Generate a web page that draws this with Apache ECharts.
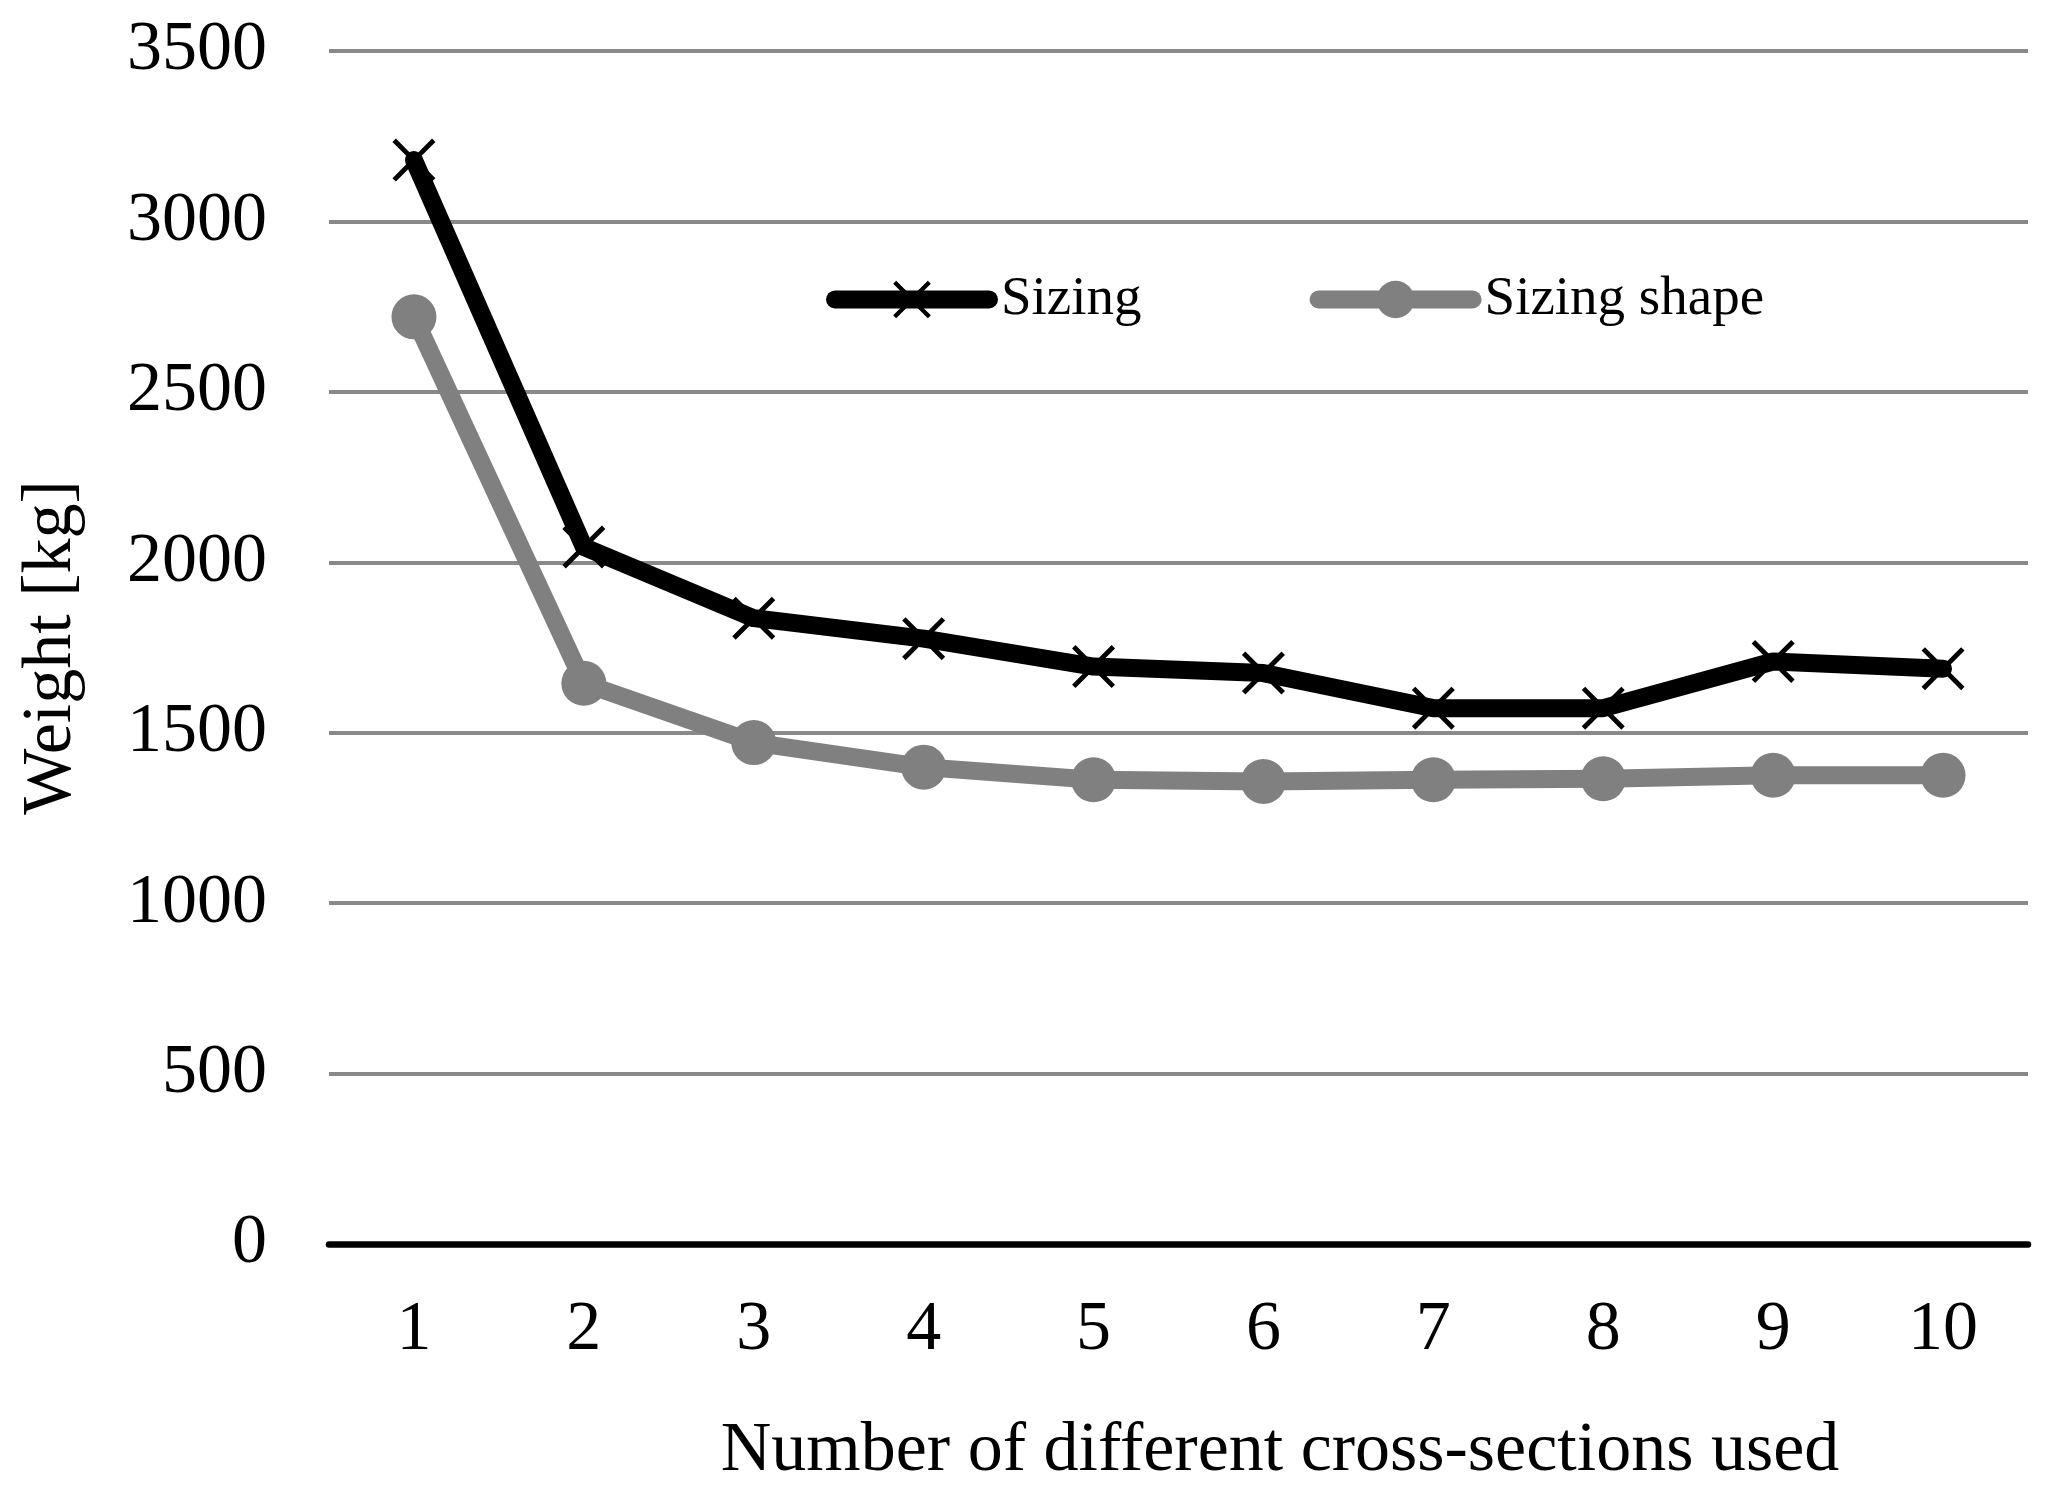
<!DOCTYPE html>
<html>
<head>
<meta charset="utf-8">
<script src="https://cdn.jsdelivr.net/npm/echarts@6/dist/echarts.min.js"></script>
<style>
html,body{margin:0;padding:0;background:#fff;}
#chart{width:2061px;height:1496px;}
</style>
</head>
<body>
<div id="chart"></div>
<script>
const categories = ['1','2','3','4','5','6','7','8','9','10'];
const sizing = [3180, 2045, 1836, 1776, 1694, 1675, 1572, 1572, 1709, 1688];
const sizingShape = [2720, 1645, 1471, 1399, 1362, 1357, 1362, 1365, 1375, 1375];
const seriesNames = ['Sizing', 'Sizing shape'];
const yTicks = {min: 0, max: 3500, interval: 500};
const xTitle = 'Number of different cross-sections used';
const yTitle = 'Weight [kg]';

const FONT = 'Liberation Serif, Times New Roman, serif';
const crossPath = 'path://M0,8 L8,0 L50,42 L92,0 L100,8 L58,50 L100,92 L92,100 L50,58 L8,100 L0,92 L42,50 Z';

const chart = echarts.init(document.getElementById('chart'), null, {renderer: 'canvas'});
chart.setOption({
  backgroundColor: '#ffffff',
  animation: false,
  grid: {left: 329, right: 33, top: 51, bottom: 252, containLabel: false, outerBoundsMode: 'none'},
  legend: {
    left: 821, top: 267,
    itemWidth: 154, itemHeight: 47, itemGap: 168,
    textStyle: {fontFamily: FONT, fontSize: 55, color: '#000', padding: [0, 0, 0, 7]},
    lineStyle: {width: 18, cap: 'round'},
    data: seriesNames
  },
  xAxis: {
    type: 'category',
    data: categories,
    boundaryGap: true,
    axisLine: {show: true, lineStyle: {color: '#000', width: 6.5}},
    axisTick: {show: false},
    axisLabel: {fontFamily: FONT, fontSize: 70, color: '#000', margin: 52},
    splitLine: {show: false}
  },
  yAxis: {
    type: 'value',
    min: yTicks.min, max: yTicks.max, interval: yTicks.interval,
    name: yTitle,
    nameLocation: 'middle',
    nameGap: 242,
    nameTextStyle: {fontFamily: FONT, fontSize: 70, color: '#000'},
    axisLine: {show: false},
    axisTick: {show: false},
    axisLabel: {fontFamily: FONT, fontSize: 70, color: '#000', margin: 62, formatter: function (v) { return String(v); }},
    splitLine: {show: true, lineStyle: {color: '#898989', width: 4}}
  },
  graphic: [{
    type: 'text',
    x: 1280, y: 1452,
    style: {text: xTitle, fontFamily: FONT, fontSize: 70, fill: '#000', textAlign: 'center', textVerticalAlign: 'middle'}
  }],
  series: [
    {
      name: seriesNames[0],
      type: 'line',
      data: sizing,
      symbol: crossPath,
      symbolSize: 43,
      showAllSymbol: true,
      lineStyle: {color: '#000', width: 18, cap: 'round', join: 'round'},
      itemStyle: {color: '#000'},
      z: 3
    },
    {
      name: seriesNames[1],
      type: 'line',
      data: sizingShape,
      symbol: 'circle',
      symbolSize: 45,
      showAllSymbol: true,
      lineStyle: {color: '#808080', width: 18, cap: 'round', join: 'round'},
      itemStyle: {color: '#808080'},
      z: 2
    }
  ]
});
</script>
</body>
</html>
